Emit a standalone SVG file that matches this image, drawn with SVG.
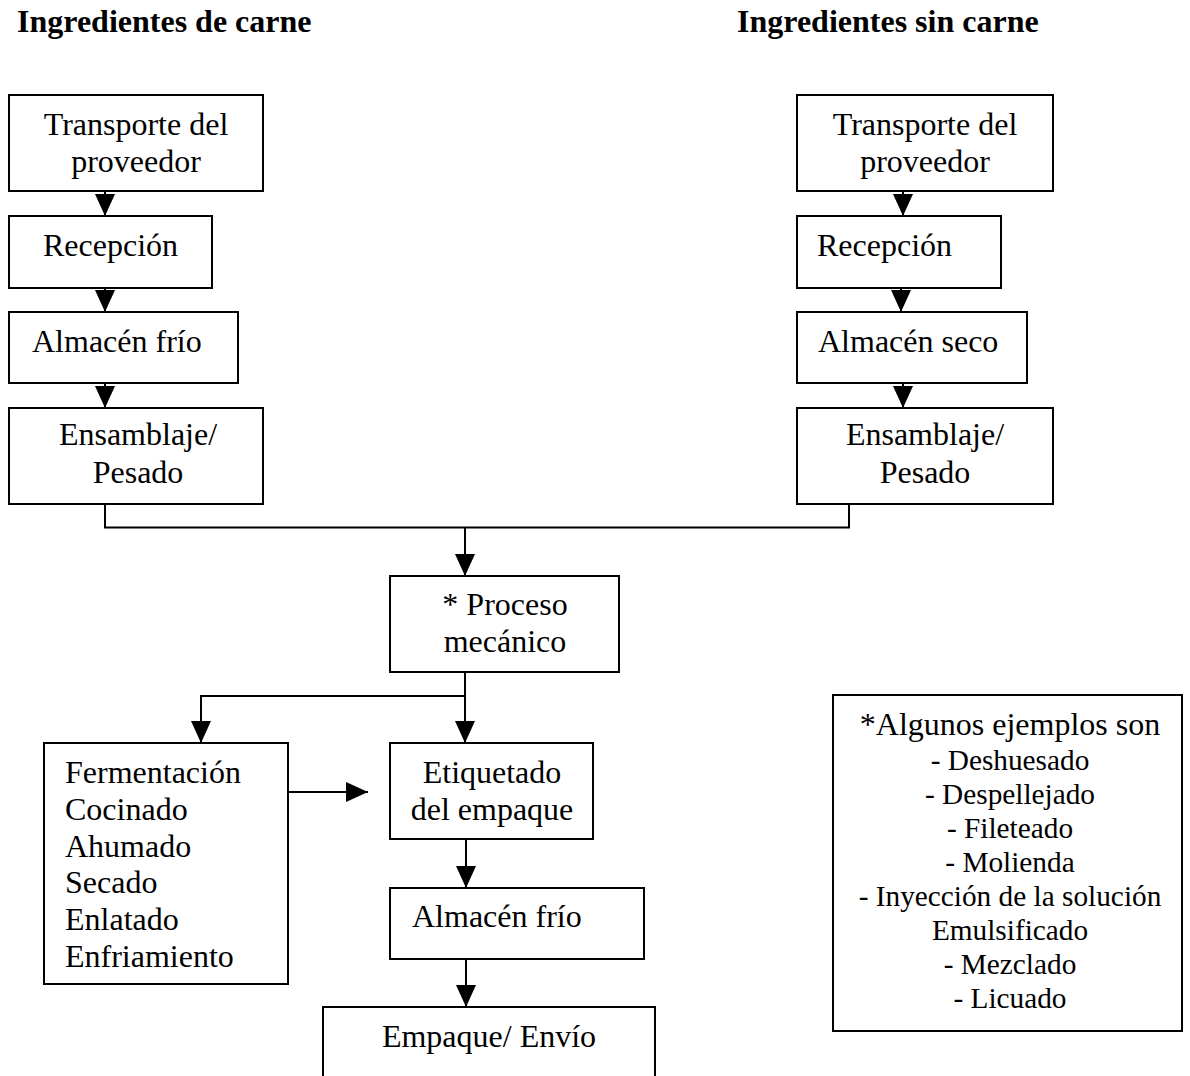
<svg xmlns="http://www.w3.org/2000/svg" width="1190" height="1076" viewBox="0 0 1190 1076">
<style>
.box{fill:#fff;stroke:#000;stroke-width:2}
.t{font-family:"Liberation Serif","Times New Roman",serif;font-size:32px;fill:#000}
.m{text-anchor:middle}
.title{font-weight:bold}
.s{font-size:29.3px}
.c{fill:none;stroke:#000;stroke-width:2}
</style>
<defs>
<marker id="ah" markerUnits="userSpaceOnUse" markerWidth="22" markerHeight="20" refX="22" refY="10" orient="auto">
<path d="M0,0 L22,10 L0,20 z" fill="#000"/>
</marker>
</defs>
<text class="t title" x="17" y="32">Ingredientes de carne</text>
<text class="t title" x="737" y="32">Ingredientes sin carne</text>
<g id="connectors">
<line class="c" x1="105" y1="191" x2="105" y2="216" marker-end="url(#ah)"/>
<line class="c" x1="105" y1="288" x2="105" y2="312" marker-end="url(#ah)"/>
<line class="c" x1="105" y1="383" x2="105" y2="408" marker-end="url(#ah)"/>
<line class="c" x1="903" y1="191" x2="903" y2="216" marker-end="url(#ah)"/>
<line class="c" x1="901" y1="288" x2="901" y2="312" marker-end="url(#ah)"/>
<line class="c" x1="903" y1="383" x2="903" y2="408" marker-end="url(#ah)"/>
<polyline class="c" points="105,504 105,527.5 849,527.5 849,504"/>
<line class="c" x1="465" y1="527" x2="465" y2="576" marker-end="url(#ah)"/>
<line class="c" x1="465" y1="672" x2="465" y2="743" marker-end="url(#ah)"/>
<polyline class="c" points="465,696 201,696 201,743" marker-end="url(#ah)"/>
<line class="c" x1="288" y1="792" x2="368" y2="792" marker-end="url(#ah)"/>
<line class="c" x1="466" y1="839" x2="466" y2="888" marker-end="url(#ah)"/>
<line class="c" x1="466" y1="959" x2="466" y2="1007" marker-end="url(#ah)"/>
</g>
<g id="n_transporte_carne">
<rect class="box" x="9" y="95" width="254" height="96"/>
<text class="t m" x="136" y="135">Transporte del</text>
<text class="t m" x="136" y="172">proveedor</text>
</g>
<g id="n_recepcion_carne">
<rect class="box" x="9" y="216" width="203" height="72"/>
<text class="t" x="43" y="256">Recepción</text>
</g>
<g id="n_almacen_frio_carne">
<rect class="box" x="9" y="312" width="229" height="71"/>
<text class="t" x="32" y="352">Almacén frío</text>
</g>
<g id="n_ensamblaje_carne">
<rect class="box" x="9" y="408" width="254" height="96"/>
<text class="t m" x="138" y="445">Ensamblaje/</text>
<text class="t m" x="138" y="483">Pesado</text>
</g>
<g id="n_transporte_sin">
<rect class="box" x="797" y="95" width="256" height="96"/>
<text class="t m" x="925" y="135">Transporte del</text>
<text class="t m" x="925" y="172">proveedor</text>
</g>
<g id="n_recepcion_sin">
<rect class="box" x="797" y="216" width="204" height="72"/>
<text class="t" x="817" y="256">Recepción</text>
</g>
<g id="n_almacen_seco">
<rect class="box" x="797" y="312" width="230" height="71"/>
<text class="t" x="818" y="352">Almacén seco</text>
</g>
<g id="n_ensamblaje_sin">
<rect class="box" x="797" y="408" width="256" height="96"/>
<text class="t m" x="925" y="445">Ensamblaje/</text>
<text class="t m" x="925" y="483">Pesado</text>
</g>
<g id="n_proceso">
<rect class="box" x="390" y="576" width="229" height="96"/>
<text class="t m" x="505" y="615">* Proceso</text>
<text class="t m" x="505" y="652">mecánico</text>
</g>
<g id="n_tratamientos">
<rect class="box" x="44" y="743" width="244" height="241"/>
<text class="t" x="65" y="783">Fermentación</text>
<text class="t" x="65" y="820">Cocinado</text>
<text class="t" x="65" y="857">Ahumado</text>
<text class="t" x="65" y="893">Secado</text>
<text class="t" x="65" y="930">Enlatado</text>
<text class="t" x="65" y="967">Enfriamiento</text>
</g>
<g id="n_etiquetado">
<rect class="box" x="390" y="743" width="203" height="96"/>
<text class="t m" x="492" y="783">Etiquetado</text>
<text class="t m" x="492" y="820">del empaque</text>
</g>
<g id="n_almacen_frio_final">
<rect class="box" x="390" y="888" width="254" height="71"/>
<text class="t" x="412" y="927">Almacén frío</text>
</g>
<g id="n_empaque">
<rect class="box" x="323" y="1007" width="332" height="100"/>
<text class="t m" x="489" y="1047">Empaque/ Envío</text>
</g>
<g id="n_ejemplos">
<rect class="box" x="833" y="695" width="349" height="336"/>
<text class="t m" x="1010" y="735">*Algunos ejemplos son</text>
<text class="t m s" x="1010" y="770">- Deshuesado</text>
<text class="t m s" x="1010" y="804">- Despellejado</text>
<text class="t m s" x="1010" y="838">- Fileteado</text>
<text class="t m s" x="1010" y="872">- Molienda</text>
<text class="t m s" x="1010" y="906">- Inyección de la solución</text>
<text class="t m s" x="1010" y="940">Emulsificado</text>
<text class="t m s" x="1010" y="974">- Mezclado</text>
<text class="t m s" x="1010" y="1008">- Licuado</text>
</g>
</svg>
